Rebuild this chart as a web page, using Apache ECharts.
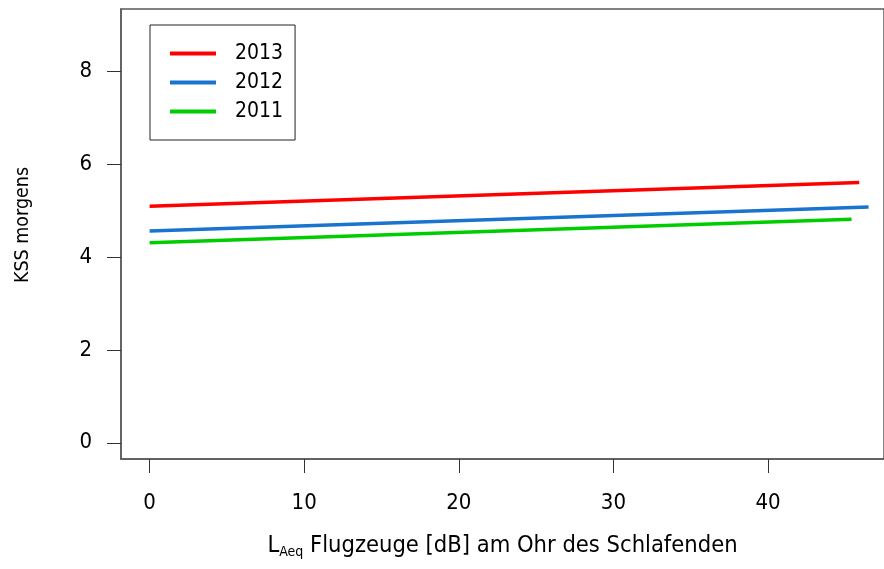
<!DOCTYPE html>
<html>
<head>
<meta charset="utf-8">
<script src="https://cdn.jsdelivr.net/npm/echarts@6/dist/echarts.min.js"></script>
<style>
  html, body { margin: 0; padding: 0; background: #fff; }
  #chart { width: 884px; height: 569px; }
</style>
</head>
<body>
<div id="chart"></div>
<script>
var years = ['2013', '2012', '2011'];
var colors = ['#ff0000', '#1874cd', '#00cd00'];
// start and end point of each fitted line [LAeq, KSS]
var kss2013 = [[0, 5.10], [45.9, 5.61]];
var kss2012 = [[0, 4.565], [46.5, 5.08]];
var kss2011 = [[0, 4.31], [45.4, 4.82]];
var xTicks = [0, 10, 20, 30, 40];
var yTicks = [0, 2, 4, 6, 8];

var chart = echarts.init(document.getElementById('chart'));
var font = '"DejaVu Sans Condensed", "DejaVu Sans", sans-serif';

option = {
    animation: false,
    textStyle: { fontFamily: font },
    grid: {
        left: 121,
        right: -3,
        top: 9,
        bottom: 110,
        show: true,
        borderColor: '#5a5a5a',
        borderWidth: 1.5
    },
    legend: {
        orient: 'vertical',
        left: 150,
        top: 25,
        data: years,
        icon: 'rect',
        itemWidth: 46,
        itemHeight: 4,
        itemGap: 0,
        padding: [14, 12, 14, 20],
        borderColor: '#222',
        borderWidth: 1,
        textStyle: {
            fontFamily: font,
            fontSize: 21,
            color: '#000',
            lineHeight: 29,
            padding: [0, 0, 0, 14]
        }
    },
    xAxis: {
        type: 'value',
        min: -1.85,
        max: 47.5,
        name: '{l|L}{sub|Aeq}{t| Flugzeuge [dB] am Ohr des Schlafenden}',
        nameLocation: 'middle',
        nameGap: 74,
        nameTextStyle: {
            rich: {
                l: { fontFamily: font, fontSize: 23.5, color: '#000' },
                sub: { fontFamily: font, fontSize: 14, color: '#000', verticalAlign: 'bottom', padding: [12, 0, 0, 0] },
                t: { fontFamily: font, fontSize: 23.5, color: '#000' }
            }
        },
        axisLine: { show: true, onZero: false, lineStyle: { color: '#5a5a5a', width: 1.5 } },
        axisTick: { show: true, customValues: xTicks, length: 14, lineStyle: { color: '#333', width: 1 } },
        axisLabel: { customValues: xTicks, margin: 33, fontFamily: font, fontSize: 22, color: '#000' },
        splitLine: { show: false }
    },
    yAxis: {
        type: 'value',
        min: -0.35,
        max: 9.35,
        name: 'KSS morgens',
        nameLocation: 'middle',
        nameGap: 88,
        nameTextStyle: { fontFamily: font, fontSize: 19.5, color: '#000', padding: [0, 0, 0, 18] },
        axisLine: { show: true, onZero: false, lineStyle: { color: '#5a5a5a', width: 1.5 } },
        axisTick: { show: true, customValues: yTicks, length: 14, lineStyle: { color: '#333', width: 1 } },
        axisLabel: { customValues: yTicks, margin: 29, fontFamily: font, fontSize: 22, color: '#000' },
        splitLine: { show: false }
    },
    series: [
        { name: years[0], type: 'line', data: kss2013, showSymbol: false, lineStyle: { color: colors[0], width: 3.5 }, itemStyle: { color: colors[0] } },
        { name: years[1], type: 'line', data: kss2012, showSymbol: false, lineStyle: { color: colors[1], width: 3.5 }, itemStyle: { color: colors[1] } },
        { name: years[2], type: 'line', data: kss2011, showSymbol: false, lineStyle: { color: colors[2], width: 3.5 }, itemStyle: { color: colors[2] } }
    ]
};

chart.setOption(option);
</script>
</body>
</html>
